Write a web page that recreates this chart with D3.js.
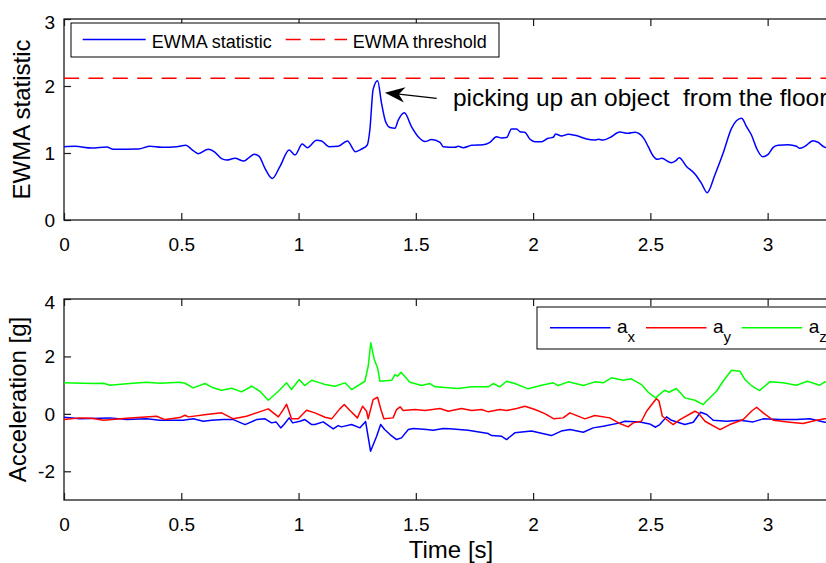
<!DOCTYPE html>
<html>
<head>
<meta charset="utf-8">
<script src="https://cdn.jsdelivr.net/npm/d3@7/dist/d3.min.js"></script>
<style>
  html, body { margin: 0; padding: 0; background: #fff; overflow: hidden; }
  svg { display: block; }
  text { font-family: "Liberation Sans", Arial, Helvetica, sans-serif; fill: #000; }
</style>
</head>
<body>
<svg id="chart" width="826" height="563"></svg>
<script>
// ---------------- DATA ----------------
const xTicks = [0, 0.5, 1, 1.5, 2, 2.5, 3];
const xTickLabels = ["0", "0.5", "1", "1.5", "2", "2.5", "3"];
const topYTicks = [0, 1, 2, 3];
const topYTickLabels = ["0", "1", "2", "3"];
const botYTicks = [-2, 0, 2, 4];
const botYTickLabels = ["-2", "0", "2", "4"];

const ewmaThreshold = 2.115;

const ewmaT = [0.0,0.047,0.118,0.182,0.21,0.317,0.367,0.416,0.48,0.52,0.544,0.573,0.615,0.64,0.672,0.693,0.729,0.767,0.79,0.811,0.831,0.857,0.888,0.921,0.96,0.985,1.016,1.037,1.077,1.098,1.13,1.169,1.208,1.243,1.269,1.293,1.304,1.318,1.337,1.354,1.371,1.39,1.411,1.425,1.451,1.482,1.513,1.539,1.567,1.603,1.617,1.667,1.681,1.702,1.738,1.787,1.816,1.844,1.866,1.887,1.908,1.93,1.944,1.965,1.986,2.008,2.036,2.064,2.086,2.096,2.121,2.15,2.178,2.2,2.228,2.263,2.278,2.299,2.327,2.37,2.405,2.434,2.472,2.491,2.512,2.529,2.548,2.59,2.609,2.623,2.654,2.69,2.718,2.742,2.775,2.81,2.846,2.867,2.889,2.91,2.931,2.953,2.978,3.002,3.024,3.045,3.088,3.123,3.137,3.159,3.194,3.215,3.244,3.27,3.3];
const ewmaV = [1.094,1.10,1.075,1.09,1.055,1.06,1.10,1.085,1.094,1.115,1.055,0.99,1.055,1.02,0.915,0.895,0.92,0.88,0.935,0.98,0.955,0.77,0.62,0.80,1.045,0.97,1.134,1.08,1.19,1.18,1.094,1.10,1.18,1.02,1.06,1.12,1.343,1.95,2.08,1.74,1.47,1.38,1.37,1.49,1.60,1.39,1.23,1.17,1.20,1.16,1.094,1.085,1.10,1.08,1.115,1.124,1.16,1.243,1.224,1.23,1.358,1.358,1.318,1.309,1.209,1.169,1.169,1.219,1.234,1.284,1.254,1.279,1.264,1.243,1.209,1.194,1.204,1.194,1.23,1.313,1.294,1.309,1.219,1.094,0.955,0.905,0.92,0.855,0.885,0.93,0.80,0.687,0.547,0.408,0.672,0.995,1.368,1.482,1.518,1.393,1.269,1.07,0.945,0.98,1.085,1.115,1.124,1.10,1.07,1.10,1.184,1.16,1.085,1.08,1.09];

const axT = [0.0,0.068,0.196,0.267,0.352,0.409,0.508,0.551,0.594,0.629,0.679,0.722,0.772,0.821,0.857,0.885,0.904,0.924,0.938,0.96,0.975,1.006,1.027,1.056,1.07,1.105,1.148,1.169,1.183,1.226,1.262,1.286,1.307,1.333,1.35,1.367,1.39,1.418,1.439,1.468,1.489,1.546,1.574,1.617,1.645,1.723,1.809,1.823,1.866,1.887,1.922,1.993,2.078,2.12,2.157,2.214,2.256,2.299,2.37,2.391,2.455,2.497,2.522,2.54,2.569,2.59,2.647,2.683,2.714,2.74,2.768,2.825,2.882,2.938,2.981,3.052,3.123,3.18,3.244,3.3];
const axV = [-0.118,-0.174,-0.14,-0.199,-0.174,-0.223,-0.223,-0.174,-0.258,-0.223,-0.199,-0.199,-0.373,-0.199,-0.174,-0.314,-0.28,-0.488,-0.373,-0.14,-0.314,-0.258,-0.199,-0.373,-0.373,-0.28,-0.523,-0.408,-0.453,-0.373,-0.488,-0.268,-1.30,-0.78,-0.373,-0.547,-0.72,-0.895,-0.837,-0.547,-0.51,-0.547,-0.57,-0.51,-0.52,-0.57,-0.686,-0.756,-0.78,-0.895,-0.66,-0.6,-0.756,-0.6,-0.547,-0.64,-0.488,-0.43,-0.314,-0.258,-0.28,-0.35,-0.466,-0.373,-0.105,-0.223,-0.373,-0.293,0.056,-0.024,-0.223,-0.258,-0.223,-0.28,-0.174,-0.199,-0.199,-0.174,-0.29,-0.22];

const ayT = [0.0,0.068,0.118,0.168,0.267,0.395,0.43,0.494,0.516,0.53,0.608,0.672,0.722,0.778,0.821,0.871,0.914,0.935,0.949,0.97,0.999,1.034,1.07,1.113,1.141,1.176,1.195,1.219,1.251,1.273,1.29,1.297,1.318,1.337,1.351,1.364,1.403,1.418,1.433,1.446,1.496,1.539,1.603,1.638,1.695,1.738,1.781,1.809,1.858,1.887,1.93,1.965,2.008,2.05,2.089,2.128,2.157,2.221,2.263,2.327,2.37,2.405,2.427,2.462,2.484,2.526,2.537,2.551,2.597,2.626,2.69,2.704,2.733,2.797,2.839,2.896,2.931,2.953,2.981,3.024,3.095,3.151,3.208,3.244,3.3];
const ayV = [-0.199,-0.14,-0.153,-0.223,-0.153,-0.084,-0.199,-0.129,-0.049,-0.105,-0.024,0.035,-0.174,-0.084,0.035,0.174,-0.105,0.15,0.334,-0.174,-0.174,0.125,0.035,-0.118,-0.174,0.174,0.324,0.115,-0.14,0.265,0.09,-0.174,0.498,0.578,0.15,-0.174,-0.14,0.15,0.244,0.115,0.15,0.115,0.185,0.09,0.185,0.115,0.15,0.07,0.15,0.115,0.185,0.265,0.15,0.01,-0.174,-0.14,0.035,-0.174,-0.06,-0.14,-0.338,-0.453,-0.314,-0.258,0.09,0.533,0.44,-0.084,-0.373,-0.199,0.09,0.035,-0.258,-0.547,-0.373,-0.199,0.09,0.23,0.035,-0.223,-0.293,-0.338,-0.223,-0.174,-0.15];

const azT = [0.0,0.125,0.168,0.196,0.267,0.352,0.409,0.494,0.516,0.551,0.601,0.636,0.672,0.715,0.757,0.8,0.835,0.871,0.914,0.949,0.97,1.003,1.026,1.056,1.091,1.113,1.155,1.198,1.226,1.283,1.297,1.308,1.323,1.337,1.347,1.397,1.411,1.422,1.437,1.475,1.525,1.56,1.582,1.681,1.738,1.809,1.83,1.858,1.887,1.922,1.979,2.036,2.086,2.107,2.15,2.214,2.263,2.299,2.334,2.384,2.419,2.462,2.491,2.522,2.56,2.58,2.611,2.647,2.69,2.725,2.746,2.782,2.81,2.846,2.882,2.903,2.931,2.966,3.009,3.066,3.123,3.169,3.222,3.244,3.3];
const azV = [1.08,1.056,1.066,0.997,1.045,1.10,1.066,1.10,1.066,0.906,1.056,0.906,0.822,0.892,0.767,0.962,0.787,0.474,0.787,1.08,0.847,1.195,0.986,1.17,1.08,1.02,0.962,1.08,0.847,1.136,1.659,2.474,1.89,1.60,1.136,1.17,1.369,1.31,1.45,1.10,0.986,1.056,0.94,0.882,0.94,0.94,1.056,0.94,1.136,1.056,0.871,0.997,1.08,0.986,1.115,0.986,1.115,1.08,1.254,1.17,1.22,1.02,0.753,0.557,0.822,0.753,0.882,0.557,0.474,0.324,0.498,0.787,1.136,1.519,1.484,1.195,0.986,0.812,1.115,1.08,0.997,1.136,0.997,1.115,1.08];

const annotationText = "picking up an object  from the floor";
const arrowTail = [1.589, 1.816];
const arrowTip = [1.368, 1.90];
const annotationPos = [1.658, 1.70];

// ---------------- LAYOUT ----------------
const FONT = '"Liberation Sans", Arial, Helvetica, sans-serif';
const svg = d3.select("#chart");
const left = 64, right = 838;
const top1 = { top: 19, bottom: 220 };
const top2 = { top: 299, bottom: 500 };
const axisColor = "#1a1a1a";

const x = d3.scaleLinear().domain([0, 3.3]).range([left, right]);
const y1 = d3.scaleLinear().domain([0, 3]).range([top1.bottom, top1.top]);
const y2 = d3.scaleLinear().domain([-3, 4]).range([top2.bottom, top2.top]);

function drawAxes(yScale, box, yTicks, yLabels, ylabelText, ylabelX) {
  const g = svg.append("g");
  const xb = g.append("g").attr("transform", `translate(0,${box.bottom})`)
    .call(d3.axisBottom(x).tickValues(xTicks).tickFormat((d, i) => xTickLabels[i]).tickSize(-7).tickSizeOuter(0));
  xb.selectAll("text").attr("y", 31).attr("dy", null).style("font-size", "19px").style("font-family", FONT);
  g.append("g").attr("transform", `translate(0,${box.top})`)
    .call(d3.axisTop(x).tickValues(xTicks).tickFormat("").tickSize(-7).tickSizeOuter(0));
  const yl = g.append("g").attr("transform", `translate(${left},0)`)
    .call(d3.axisLeft(yScale).tickValues(yTicks).tickFormat((d, i) => yLabels[i]).tickSize(-7).tickSizeOuter(0));
  yl.selectAll("text").attr("x", -9).attr("dy", null)
    .attr("y", (d) => (yScale(d) <= box.top + 1 ? 9 : 6.5))
    .style("font-size", "19px").style("font-family", FONT);
  g.append("g").attr("transform", `translate(${right},0)`)
    .call(d3.axisRight(yScale).tickValues(yTicks).tickFormat("").tickSize(-7).tickSizeOuter(0));
  g.selectAll(".domain").remove();
  g.selectAll(".tick line").attr("stroke", axisColor).attr("stroke-width", 1.2);
  g.selectAll(".tick text").attr("fill", "#000");
  g.append("rect").attr("x", left).attr("y", box.top)
    .attr("width", right - left).attr("height", box.bottom - box.top)
    .attr("fill", "none").attr("stroke", axisColor).attr("stroke-width", 1.3);
  svg.append("text")
    .attr("transform", `translate(${ylabelX},${(box.top + box.bottom) / 2}) rotate(-90)`)
    .attr("text-anchor", "middle").style("font-size", "24px").text(ylabelText);
}

svg.append("rect").attr("width", 826).attr("height", 563).attr("fill", "#fff");

// ---------- TOP PLOT ----------
drawAxes(y1, top1, topYTicks, topYTickLabels, "EWMA statistic", 30);

const line1 = d3.line().x((d) => x(d[0])).y((d) => y1(d[1])).curve(d3.curveMonotoneX);
svg.append("path")
  .datum(ewmaT.map((t, i) => [t, ewmaV[i]]))
  .attr("d", line1).attr("fill", "none").attr("stroke", "#0000ff").attr("stroke-width", 1.5)
  .attr("stroke-linejoin", "round");

svg.append("line")
  .attr("x1", x(0)).attr("x2", x(3.3))
  .attr("y1", y1(ewmaThreshold)).attr("y2", y1(ewmaThreshold))
  .attr("stroke", "#ff0000").attr("stroke-width", 1.6).attr("stroke-dasharray", "15,9.4");

{
  const tx = x(arrowTail[0]), ty = y1(arrowTail[1]);
  const hx = x(arrowTip[0]), hy = y1(arrowTip[1]);
  const ang = Math.atan2(ty - hy, tx - hx);
  const L = 20, W = 7.7, N = 14;
  const ca = Math.cos(ang), sa = Math.sin(ang);
  const p = (a, b) => [hx + a * ca - b * sa, hy + a * sa + b * ca];
  svg.append("line").attr("x1", tx).attr("y1", ty).attr("x2", p(N, 0)[0]).attr("y2", p(N, 0)[1])
    .attr("stroke", "#000").attr("stroke-width", 1.3);
  svg.append("polygon")
    .attr("points", [p(0, 0), p(L, W), p(N, 0), p(L, -W)].map((q) => q.join(",")).join(" "))
    .attr("fill", "#000");
  svg.append("text").attr("x", x(annotationPos[0])).attr("y", y1(annotationPos[1]))
    .style("font-size", "24.5px").style("white-space", "pre").attr("xml:space", "preserve")
    .text(annotationText);
}

{
  const lg = svg.append("g");
  lg.append("rect").attr("x", 71).attr("y", 23).attr("width", 428).attr("height", 34)
    .attr("fill", "#fff").attr("stroke", "#000").attr("stroke-width", 1);
  lg.append("line").attr("x1", 82.7).attr("x2", 145.7).attr("y1", 39.5).attr("y2", 39.5)
    .attr("stroke", "#0000ff").attr("stroke-width", 1.5);
  lg.append("text").attr("x", 151.7).attr("y", 47.5).style("font-size", "18px").text("EWMA statistic");
  lg.append("line").attr("x1", 285.7).attr("x2", 347).attr("y1", 39.5).attr("y2", 39.5)
    .attr("stroke", "#ff0000").attr("stroke-width", 1.6).attr("stroke-dasharray", "15,9.4");
  lg.append("text").attr("x", 352.7).attr("y", 47.5).style("font-size", "18px").text("EWMA threshold");
}

// ---------- BOTTOM PLOT ----------
drawAxes(y2, top2, botYTicks, botYTickLabels, "Acceleration [g]", 26);

const line2 = d3.line().x((d) => x(d[0])).y((d) => y2(d[1]));
const series = [
  { t: axT, v: axV, color: "#0000ff", sub: "x" },
  { t: ayT, v: ayV, color: "#ff0000", sub: "y" },
  { t: azT, v: azV, color: "#00ff00", sub: "z" }
];
series.forEach((s) => {
  svg.append("path")
    .datum(s.t.map((t, i) => [t, s.v[i]]))
    .attr("d", line2).attr("fill", "none").attr("stroke", s.color).attr("stroke-width", 1.5)
    .attr("stroke-linejoin", "round");
});

svg.append("text").attr("x", (left + right) / 2).attr("y", 558)
  .attr("text-anchor", "middle").style("font-size", "24px").text("Time [s]");

{
  const lg = svg.append("g");
  lg.append("rect").attr("x", 537).attr("y", 307).attr("width", 294).attr("height", 42)
    .attr("fill", "#fff").attr("stroke", "#000").attr("stroke-width", 1);
  const lx = [550, 646, 741.7];
  series.forEach((s, i) => {
    lg.append("line").attr("x1", lx[i]).attr("x2", lx[i] + 60.5).attr("y1", 327.7).attr("y2", 327.7)
      .attr("stroke", s.color).attr("stroke-width", 1.5);
    const t = lg.append("text").attr("x", lx[i] + 67).attr("y", 333).style("font-size", "19px");
    t.append("tspan").text("a");
    t.append("tspan").attr("dy", 8.5).style("font-size", "15px").text(s.sub);
  });
}
</script>
</body>
</html>
